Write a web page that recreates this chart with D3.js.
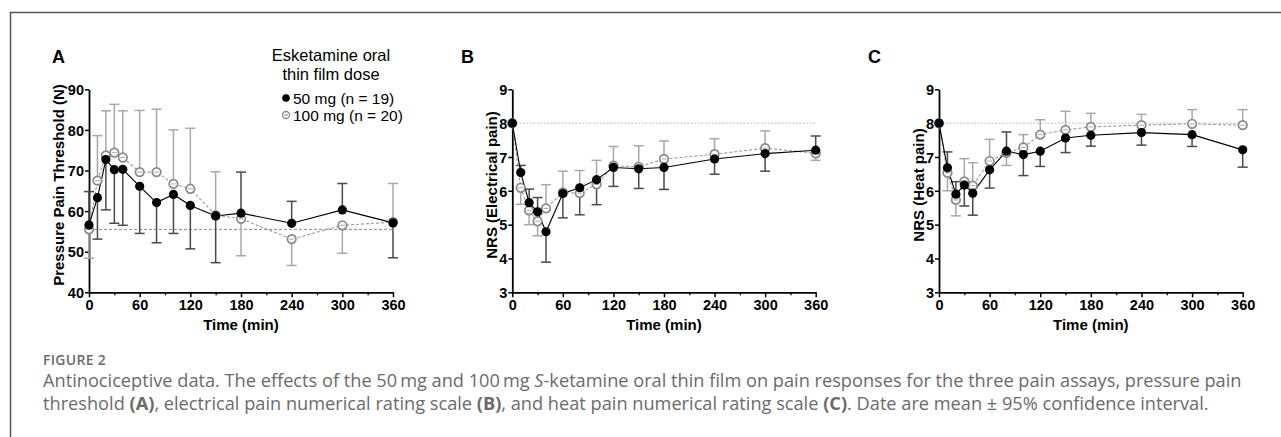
<!DOCTYPE html>
<html>
<head>
<meta charset="utf-8">
<script src="https://cdn.jsdelivr.net/npm/d3@7"></script>
<style>
  body { margin: 0; background: #fff; }
  svg text { font-family: "Liberation Sans", Arial, sans-serif; }
  .tick text { font-weight: bold; font-size: 14.5px; fill: #000; }
  .caption { font-family: "Open Sans", sans-serif !important; fill: #6b6b6b; }
</style>
</head>
<body>
<svg></svg>
<script>
// sampling times (min) and axis ticks
var times = [0, 10, 20, 30, 40, 60, 80, 100, 120, 150, 180, 240, 300, 360];
var xTicks = [0, 60, 120, 180, 240, 300, 360];

// A: pressure pain threshold (N); *Err = end of the drawn one-sided CI bar
var pptLow = [56.6, 63.3, 72.7, 70.2, 70.3, 66.1, 62.1, 64.1, 61.4, 58.8, 59.5, 57.0, 60.3, 57.1];
var pptLowErr = [64.8, 53.1, 60.3, 57.0, 56.5, 54.5, 52.2, 54.5, 50.7, 47.3, 69.6, 62.4, 66.8, 48.5];
var pptHigh = [55.5, 67.5, 73.7, 74.4, 73.2, 69.6, 69.6, 66.7, 65.5, 59.0, 58.1, 53.1, 56.5, 57.3];
var pptHighErr = [48.4, 78.6, 84.7, 86.3, 84.7, 84.8, 85.1, 80.0, 80.4, 69.7, 49.0, 46.6, 49.6, 66.8];
var pptTicks = [40, 50, 60, 70, 80, 90];

// B: NRS electrical pain
var elecLow = [8.0, 6.54, 5.65, 5.38, 4.79, 5.92, 6.09, 6.33, 6.69, 6.65, 6.69, 6.94, 7.10, 7.20];
var elecLowErr = [8.0, 6.75, 6.05, 5.80, 3.89, 5.20, 5.29, 5.59, 6.13, 6.07, 6.04, 6.49, 6.58, 7.62];
var elecHigh = [8.0, 6.09, 5.42, 5.10, 5.48, 5.95, 5.93, 6.19, 6.74, 6.71, 6.94, 7.08, 7.26, 7.11];
var elecHighErr = [8.0, 5.60, 5.00, 4.67, 6.18, 6.58, 6.60, 6.90, 7.31, 7.33, 7.47, 7.54, 7.77, 6.90];

// C: NRS heat pain
var heatLow = [8.0, 6.68, 5.90, 6.17, 5.93, 6.62, 7.17, 7.07, 7.17, 7.56, 7.64, 7.72, 7.66, 7.21];
var heatLowErr = [8.0, 7.15, 6.27, 5.55, 5.28, 6.08, 7.74, 6.45, 6.72, 7.13, 7.32, 7.35, 7.31, 6.70];
var heatHigh = [8.0, 6.53, 5.73, 6.28, 6.15, 6.88, 7.12, 7.28, 7.66, 7.80, 7.89, 7.94, 7.98, 7.94];
var heatHighErr = [8.0, 6.00, 5.26, 6.95, 6.83, 7.52, 6.75, 7.66, 8.10, 8.35, 8.29, 8.26, 8.40, 8.40];
var nrsTicks = [3, 4, 5, 6, 7, 8, 9];

var legendTitle = ['Esketamine oral', 'thin film dose'];
var legendItems = ['50 mg (n = 19)', '100 mg (n = 20)'];

var width = 1281, height = 437;
var svg = d3.select('svg').attr('width', width).attr('height', height);

// figure frame (top and left rule)
svg.append('path')
   .attr('d', 'M10.5,' + height + 'V12.5H' + width)
   .attr('fill', 'none').attr('stroke', '#555').attr('stroke-width', 1.5);

var panels = [
  { letter: 'A', lx: 52, left: 89, right: 393, domain: [40, 90], ticks: pptTicks, base: 55.5,
    baseColor: '#888', baseDash: '3,2', title: 'Pressure Pain Threshold (N)', tx: 64,
    low: pptLow, lowErr: pptLowErr, high: pptHigh, highErr: pptHighErr },
  { letter: 'B', lx: 461, left: 512.3, right: 815.7, domain: [3, 9], ticks: nrsTicks, base: 8,
    baseColor: '#bbb', baseDash: '2,1.5', title: 'NRS (Electrical pain)', tx: 497,
    low: elecLow, lowErr: elecLowErr, high: elecHigh, highErr: elecHighErr },
  { letter: 'C', lx: 868, left: 939, right: 1242.7, domain: [3, 9], ticks: nrsTicks, base: 8,
    baseColor: '#bbb', baseDash: '2,1.5', title: 'NRS (Heat pain)', tx: 924,
    low: heatLow, lowErr: heatLowErr, high: heatHigh, highErr: heatHighErr }
];

var plotTop = 89.3, plotBottom = 292.3;

panels.forEach(function(p) {
  var g = svg.append('g');
  var x = d3.scaleLinear().domain([0, 360]).range([p.left, p.right]);
  var y = d3.scaleLinear().domain(p.domain).range([plotBottom, plotTop]);

  g.append('text').attr('x', p.lx).attr('y', 63)
   .attr('font-size', 18).attr('font-weight', 'bold').text(p.letter);

  // baseline
  g.append('line')
   .attr('x1', x(0)).attr('x2', x(360))
   .attr('y1', y(p.base)).attr('y2', y(p.base))
   .attr('stroke', p.baseColor).attr('stroke-width', 1)
   .attr('stroke-dasharray', p.baseDash);

  // axes
  var xMinor = g.append('g').attr('transform', 'translate(0,' + plotBottom + ')')
    .call(d3.axisBottom(x).tickValues(d3.range(30, 360, 60)).tickSize(3).tickFormat(''));
  xMinor.select('.domain').remove();
  xMinor.selectAll('line').attr('stroke-width', 1.3);

  var xAxis = g.append('g').attr('transform', 'translate(0,' + plotBottom + ')')
    .call(d3.axisBottom(x).tickValues(xTicks).tickSize(5).tickPadding(2).tickSizeOuter(0));
  xAxis.select('.domain').attr('stroke-width', 1.8);
  xAxis.selectAll('line').attr('stroke-width', 1.5);

  var yAxis = g.append('g').attr('transform', 'translate(' + p.left + ',0)')
    .call(d3.axisLeft(y).tickValues(p.ticks).tickFormat(d3.format('d'))
      .tickSize(4).tickPadding(1).tickSizeOuter(0));
  yAxis.select('.domain').attr('stroke-width', 1.8);
  yAxis.selectAll('line').attr('stroke-width', 1.5);
  yAxis.selectAll('text').attr('font-size', 15.5).attr('dy', '0.36em');

  g.append('text')
   .attr('transform', 'translate(' + p.tx + ',185) rotate(-90)')
   .attr('text-anchor', 'middle').attr('font-size', 15).attr('font-weight', 'bold')
   .text(p.title);

  g.append('text').attr('x', (p.left + p.right) / 2).attr('y', 330)
   .attr('text-anchor', 'middle').attr('font-size', 15).attr('font-weight', 'bold')
   .text('Time (min)');

  var series = [
    { vals: p.high, err: p.highErr, bar: '#a8a8a8', line: '#9a9a9a', dash: '3,2', open: true },
    { vals: p.low, err: p.lowErr, bar: '#4a4a4a', line: '#000', dash: null, open: false }
  ];

  // error bars
  series.forEach(function(s) {
    var eb = g.append('g');
    times.forEach(function(t, i) {
      if (s.err[i] === s.vals[i]) return;
      eb.append('line').attr('x1', x(t)).attr('x2', x(t))
        .attr('y1', y(s.vals[i])).attr('y2', y(s.err[i]))
        .attr('stroke', s.bar).attr('stroke-width', 1.5);
      eb.append('line').attr('x1', x(t) - 5).attr('x2', x(t) + 5)
        .attr('y1', y(s.err[i])).attr('y2', y(s.err[i]))
        .attr('stroke', s.bar).attr('stroke-width', 1.5);
    });
  });

  // connecting lines
  series.forEach(function(s) {
    g.append('path').datum(s.vals)
     .attr('fill', 'none').attr('stroke', s.line).attr('stroke-width', 1.1)
     .attr('stroke-dasharray', s.dash)
     .attr('d', d3.line().x(function(d, i) { return x(times[i]); }).y(function(d) { return y(d); }));
  });

  // markers
  series.forEach(function(s) {
    var m = g.selectAll(null).data(s.vals).enter().append('g')
      .attr('transform', function(d, i) { return 'translate(' + x(times[i]) + ',' + y(d) + ')'; });
    if (s.open) {
      m.append('circle').attr('r', 4.3).attr('fill', '#fff').attr('stroke', '#8a8a8a').attr('stroke-width', 1.7);
      m.append('line').attr('x1', -2.5).attr('x2', 2.5).attr('stroke', '#a8a8a8').attr('stroke-width', 1);
    } else {
      m.append('circle').attr('r', 4.6).attr('fill', '#000');
    }
  });
});

// legend (panel A)
var lg = svg.append('g');
legendTitle.forEach(function(t, i) {
  lg.append('text').attr('x', 331).attr('y', 61 + i * 19)
    .attr('text-anchor', 'middle').attr('font-size', 16.5).text(t);
});
legendItems.forEach(function(t, i) {
  var yy = 98 + i * 17;
  if (i === 0) {
    lg.append('circle').attr('cx', 286).attr('cy', yy).attr('r', 3.8).attr('fill', '#000');
  } else {
    lg.append('circle').attr('cx', 286).attr('cy', yy).attr('r', 3.5)
      .attr('fill', '#fff').attr('stroke', '#8a8a8a').attr('stroke-width', 1.3);
    lg.append('line').attr('x1', 284).attr('x2', 288).attr('y1', yy).attr('y2', yy)
      .attr('stroke', '#8a8a8a').attr('stroke-width', 1);
  }
  lg.append('text').attr('x', 293).attr('y', yy + 5.5).attr('font-size', 15.5).text(t);
});

// caption
svg.append('text').attr('class', 'caption').attr('x', 43).attr('y', 365)
   .attr('font-size', 14).attr('font-weight', 600).attr('letter-spacing', 0.3)
   .text('FIGURE 2');

var cap1 = svg.append('text').attr('class', 'caption').attr('x', 43).attr('y', 387).attr('font-size', 18.2);
cap1.append('tspan').text('Antinociceptive data. The effects of the 50\u2009mg and 100\u2009mg ');
cap1.append('tspan').attr('font-style', 'italic').text('S');
cap1.append('tspan').text('-ketamine oral thin film on pain responses for the three pain assays, pressure pain');

var cap2 = svg.append('text').attr('class', 'caption').attr('x', 43).attr('y', 410).attr('font-size', 18.2);
cap2.append('tspan').text('threshold ');
cap2.append('tspan').attr('font-weight', 'bold').text('(A)');
cap2.append('tspan').text(', electrical pain numerical rating scale ');
cap2.append('tspan').attr('font-weight', 'bold').text('(B)');
cap2.append('tspan').text(', and heat pain numerical rating scale ');
cap2.append('tspan').attr('font-weight', 'bold').text('(C)');
cap2.append('tspan').text('. Date are mean \u00b1 95% confidence interval.');
</script>
</body>
</html>
